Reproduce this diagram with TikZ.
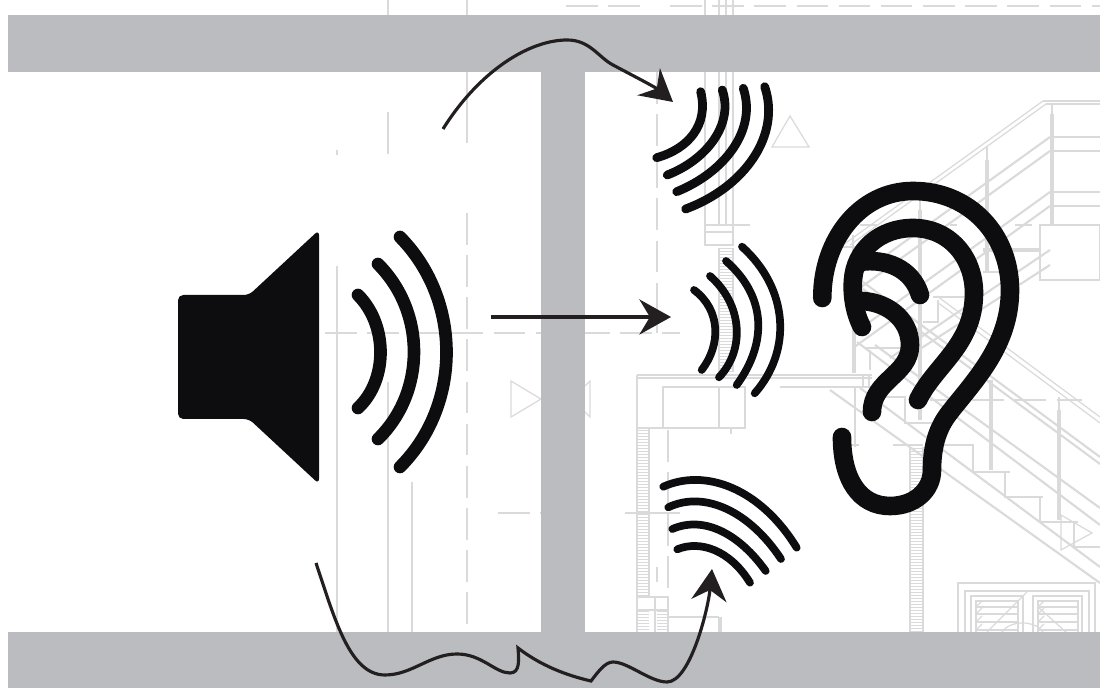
\documentclass[tikz,border=0pt]{standalone}
\usepackage{xcolor}
\usetikzlibrary{arrows.meta}
\definecolor{wallGray}{HTML}{BBBCC0}
\definecolor{planGray}{HTML}{DADADB}
\definecolor{inkBlack}{HTML}{0D0C0E}
\definecolor{pathBlack}{HTML}{231F20}

\begin{document}
\begin{tikzpicture}[
  x=0.02cm, y=-0.02cm,
  wall/.style={fill=wallGray, draw=none},
  plan/.style={draw=planGray, line width=0.7pt},
  planmid/.style={draw=planGray, line width=1.2pt},
  planthick/.style={draw=planGray, line width=2.6pt},
  plandash/.style={draw=planGray, line width=0.9pt, dash pattern=on 18pt off 6pt},
  hatchline/.style={draw=planGray, line width=0.4pt},
  wave/.style={draw=inkBlack, line width=#1, line cap=round},
  wave/.default=5pt,
  earline/.style={draw=inkBlack, line width=10.6pt, line cap=round, line join=round},
  soundpath/.style={draw=pathBlack, line width=1.8pt,
    -{Stealth[length=18pt, width=20pt, inset=6pt]}},
]
\useasboundingbox (0,0) rectangle (1100,688);

% Plan, left part
\foreach \px/\ya/\yb in {337/266/632, 337/150/155, 388/0/15, 388/112/154, 388/382/632,
    412/482/632, 467/0/15, 467/72/143}
  \draw[plan] (\px,\ya) -- (\px,\yb);
\draw[plandash] (467,213) -- (467,632);
\draw[plandash] (325,333) -- (680,333);
\draw[plandash] (498,513) -- (541,513);
\draw[plan] (511,381) -- (511,417) -- (541,399) -- cycle;
\draw[plan] (585,386) -- (590,381) -- (590,417) -- (585,412);
\draw[plandash] (566,6) -- (642,6);
\draw[plandash] (670,6) -- (1100,6);

% Plan, wall and sections
\foreach \px in {705,719,726,733}
  \draw[plan] (\px,0) -- (\px,225);
\draw[plandash] (657,72) -- (657,333);
\draw[plan] (705,225) rectangle (733,245);
\draw[plan] (705,232) -- (733,232);
\draw[plan] (705,225) -- (750,225);
\draw[plan] (772,147) -- (790,116) -- (809,147) -- cycle;
\foreach \py in {248,251,...,372}
  \draw[hatchline] (719,\py) -- (732,\py);
\draw[plan] (719,248) -- (719,372);
\draw[plan] (733,248) -- (733,372);
\draw[plan] (637,375) -- (872,375);
\draw[plan] (637,378) -- (872,378);
\draw[plan] (780,387) -- (872,387);
\draw[plan] (637,375) -- (637,632);
\draw[plan] (663,387) rectangle (745,428);
\draw[plan] (637,428) -- (745,428);
\draw[plan] (719,387) -- (719,428);
\draw[plan] (649,428) -- (649,597);
\foreach \py in {430,433,...,597}
  \draw[hatchline] (638,\py) -- (649,\py);
\draw[plan] (637,597) rectangle (668,610);
\draw[plan] (655,597) -- (655,632);
\draw[plan] (668,610) -- (668,632);
\foreach \py in {611,614,...,632} {
  \draw[hatchline] (638,\py) -- (649,\py);
  \draw[hatchline] (657,\py) -- (668,\py);
}
\draw[plandash] (668,430) -- (668,597);
\draw[plan] (657,567) -- (657,582);
\draw[plan] (668,617) -- (719,617);
\draw[plan] (719,617) -- (719,632);
\draw[plan] (721,617) -- (721,632);
\draw[plan] (625,513) -- (680,513);
\draw[plan] (731,428) -- (731,434);

% Stair rails going up
\draw[plan] (1043,101) -- (1100,101);
\draw[plan] (1046,104) -- (1100,104);
\draw[plan] (1043,101) -- (843,245);
\draw[plan] (1046,104) -- (850,245);
\foreach \ya/\xb/\yb in {137/853/279, 151/853/293, 192/853/334, 206/853/348, 250/890/358, 265/903/360}
  \draw[planmid] (1050,\ya) -- (\xb,\yb);
\foreach \py in {137,151,192,206}
  \draw[planmid] (1052,\py) -- (1100,\py);
\draw[plan] (1052,104) -- (1052,114);
\draw[planthick] (1052,114) -- (1052,225);
\draw[plan] (987,147) -- (987,160);
\draw[planthick] (987,160) -- (987,272);
\draw[plan] (920,200) -- (920,210);
\draw[planthick] (920,210) -- (920,420);
\draw[plan] (853,235) -- (853,260);
\draw[planthick] (854,260) -- (854,373);
\draw[plan] (1040,225) rectangle (1100,280);
\draw[plan] (843,247) -- (863,247);
\draw[planthick] (983,250) -- (1040,250);
\foreach \xa/\xb in {860/877, 950/957, 1015/1032}
  \draw[planmid] (\xa,225) -- (\xb,225);
\draw[planmid] (983,272) -- (1000,272);

% Stair rails going down
\foreach \xa/\ya/\yb in {863/282/457, 863/289/464, 875/345/508, 857/342/525, 860/388/567, 830/390/583}
  \draw[planmid] (\xa,\ya) -- (1100,\yb);
\draw[plan] (937,296) -- (1100,417);
\draw[plan] (937,302) -- (1100,423);

% Small parts behind the ear
\draw[plan] (863,375) rectangle (869,387);
\draw[planmid] (865,348) -- (902,348);
\draw[planmid] (870,350) -- (870,370);
\draw[planmid] (883,397) -- (905,397) -- (905,423) -- (940,423);
\draw[planmid] (933,297) -- (967,297);
\draw[planmid] (938,300) -- (938,322) -- (923,322);
\draw[plan] (855,387) -- (855,447);
\draw[planmid] (852,445) -- (859,445);
\draw[planmid] (893,445) -- (923,445);
\draw[plan] (910,447) -- (910,632);
\draw[plan] (923,447) -- (923,632);
\foreach \py in {448,451,...,632}
  \draw[hatchline] (910,\py) -- (923,\py);

% Stair steps
\draw[planmid] (943,445) -- (973,445) -- (973,472) -- (1010,472);
\draw[planmid] (1005,472) -- (1005,497) -- (1043,497);
\draw[planmid] (1040,497) -- (1040,522) -- (1078,522);
\draw[planmid] (1074,522) -- (1074,547) -- (1100,547);
\draw[planthick] (991,380) -- (991,470);
\draw[plan] (1059,397) -- (1059,410);
\draw[planthick] (1059,410) -- (1059,520);
\draw[plan] (1061,515) -- (1061,550) -- (1092,533) -- cycle;
\draw[plandash] (930,400) -- (1082,400);

% Window
\draw[planmid] (958,583) rectangle (1095,640);
\draw[planmid] (965,591) rectangle (1089,640);
\draw[planmid] (971,596) rectangle (1023,640);
\draw[planmid] (1033,596) rectangle (1082,640);
\draw[plan] (976,601) rectangle (1018,640);
\draw[plan] (1038,601) rectangle (1078,640);
\foreach \py in {607,614,622,630} {
  \draw[plan] (976,\py) -- (1018,\py);
  \draw[plan] (1038,\py) -- (1078,\py);
  \draw[plan] (976,\py) -- (982,\py-6);
  \draw[plan] (1038,\py) -- (1044,\py-6);
}
\draw[plan] (1027,592) -- (987,632);
\draw[plan] (1038,607) -- (1067,633);
\draw[plan] (1002,632) .. controls (1010,620) and (1035,620) .. (1043,632);

% Walls
\fill[wall] (8,15) rectangle (1100,72);
\fill[wall] (8,632) rectangle (1100,688);
\fill[wall] (541,72) rectangle (585,632);

% Speaker
\fill[inkBlack, rounded corners=3pt] (178,295) -- (249,295) -- (319,230) -- (319,484)
  -- (249,419) -- (178,419) -- cycle;
\draw[wave=7.2pt] (358,295) .. controls (388,325) and (388,380) .. (358,408);
\draw[wave=7.2pt] (378,264) .. controls (426,312) and (426,392) .. (378,439);
\draw[wave=7.2pt] (400,237) .. controls (462,300) and (462,405) .. (400,467);

% Waves at the top
\draw[wave] (700.7,91.7) .. controls (709,125) and (688,149) .. (656.7,157.7);
\draw[wave] (722.3,90) .. controls (734,125) and (706,160) .. (667.3,175);
\draw[wave] (743.3,88.3) .. controls (757,130) and (725,172) .. (676.7,191.7);
\draw[wave] (764.7,86.7) .. controls (781,135) and (745,187) .. (685.7,209);

% Waves in the middle
\draw[wave=4.4pt] (694,290) .. controls (721,310) and (721,345) .. (701.7,370);
\draw[wave=4.4pt] (710,276) .. controls (743,305) and (745,350) .. (719,377.3);
\draw[wave=4.4pt] (726,261) .. controls (766,296) and (768,342) .. (736.7,385);
\draw[wave=4.4pt] (742,246.7) .. controls (789,289) and (792,351) .. (754.7,393.3);

% Waves at the bottom
\draw[wave=4.4pt] (677.3,549.3) .. controls (700,540) and (730,550) .. (750,582.7);
\draw[wave=4.4pt] (672.3,529) .. controls (705,515) and (740,535) .. (765.7,571);
\draw[wave=4.4pt] (668.3,507.3) .. controls (705,490) and (750,512) .. (781,559);
\draw[wave=4.4pt] (663.3,486.7) .. controls (705,468) and (760,488) .. (796.7,547.7);

% Ear
\draw[earline] (822.3,298) .. controls (822,240) and (860,191) .. (913,191)
  .. controls (970,191) and (1010,235) .. (1010,290)
  .. controls (1010,345) and (975,380) .. (950,412)
  .. controls (938,427) and (932,445) .. (932,470)
  .. controls (932,490) and (915,506) .. (890,506)
  .. controls (860,506) and (842,480) .. (842,437);
\draw[earline] (862,327) .. controls (853,310) and (852,290) .. (853,280)
  .. controls (855,250) and (880,228) .. (913,228)
  .. controls (950,228) and (974,258) .. (974,293)
  .. controls (974,345) and (935,365) .. (918,400);
\draw[earline] (860,262) .. controls (885,258) and (912,268) .. (920,295);
\draw[earline] (857,301) .. controls (885,300) and (910,318) .. (910,345)
  .. controls (910,375) and (872,380) .. (872,412);

% Sound paths
\coordinate (topFrom) at (443,129);
\coordinate (topTo) at (673,102);
\coordinate (midFrom) at (491,317);
\coordinate (midTo) at (671,317);
\coordinate (lowFrom) at (316,563);
\coordinate (lowTo) at (712,569);
\draw[soundpath] (topFrom) .. controls (480,70) and (530,40) .. (567,40)
  .. controls (590,40) and (598,57) .. (613,65)
  .. controls (628,73) and (655,87) .. (topTo);
\draw[soundpath] (midFrom) -- (midTo);
\draw[soundpath] (lowFrom) .. controls (335,620) and (350,675) .. (385,675)
  .. controls (412,675) and (430,654) .. (457,654)
  .. controls (482,654) and (495,673) .. (510,673)
  .. controls (520,673) and (519,660) .. (518,648)
  .. controls (540,665) and (565,675) .. (591,681)
  .. controls (598,672) and (605,662) .. (613,662)
  .. controls (628,662) and (650,682) .. (667,682)
  .. controls (690,682) and (708,610) .. (lowTo);
\end{tikzpicture}
\end{document}
